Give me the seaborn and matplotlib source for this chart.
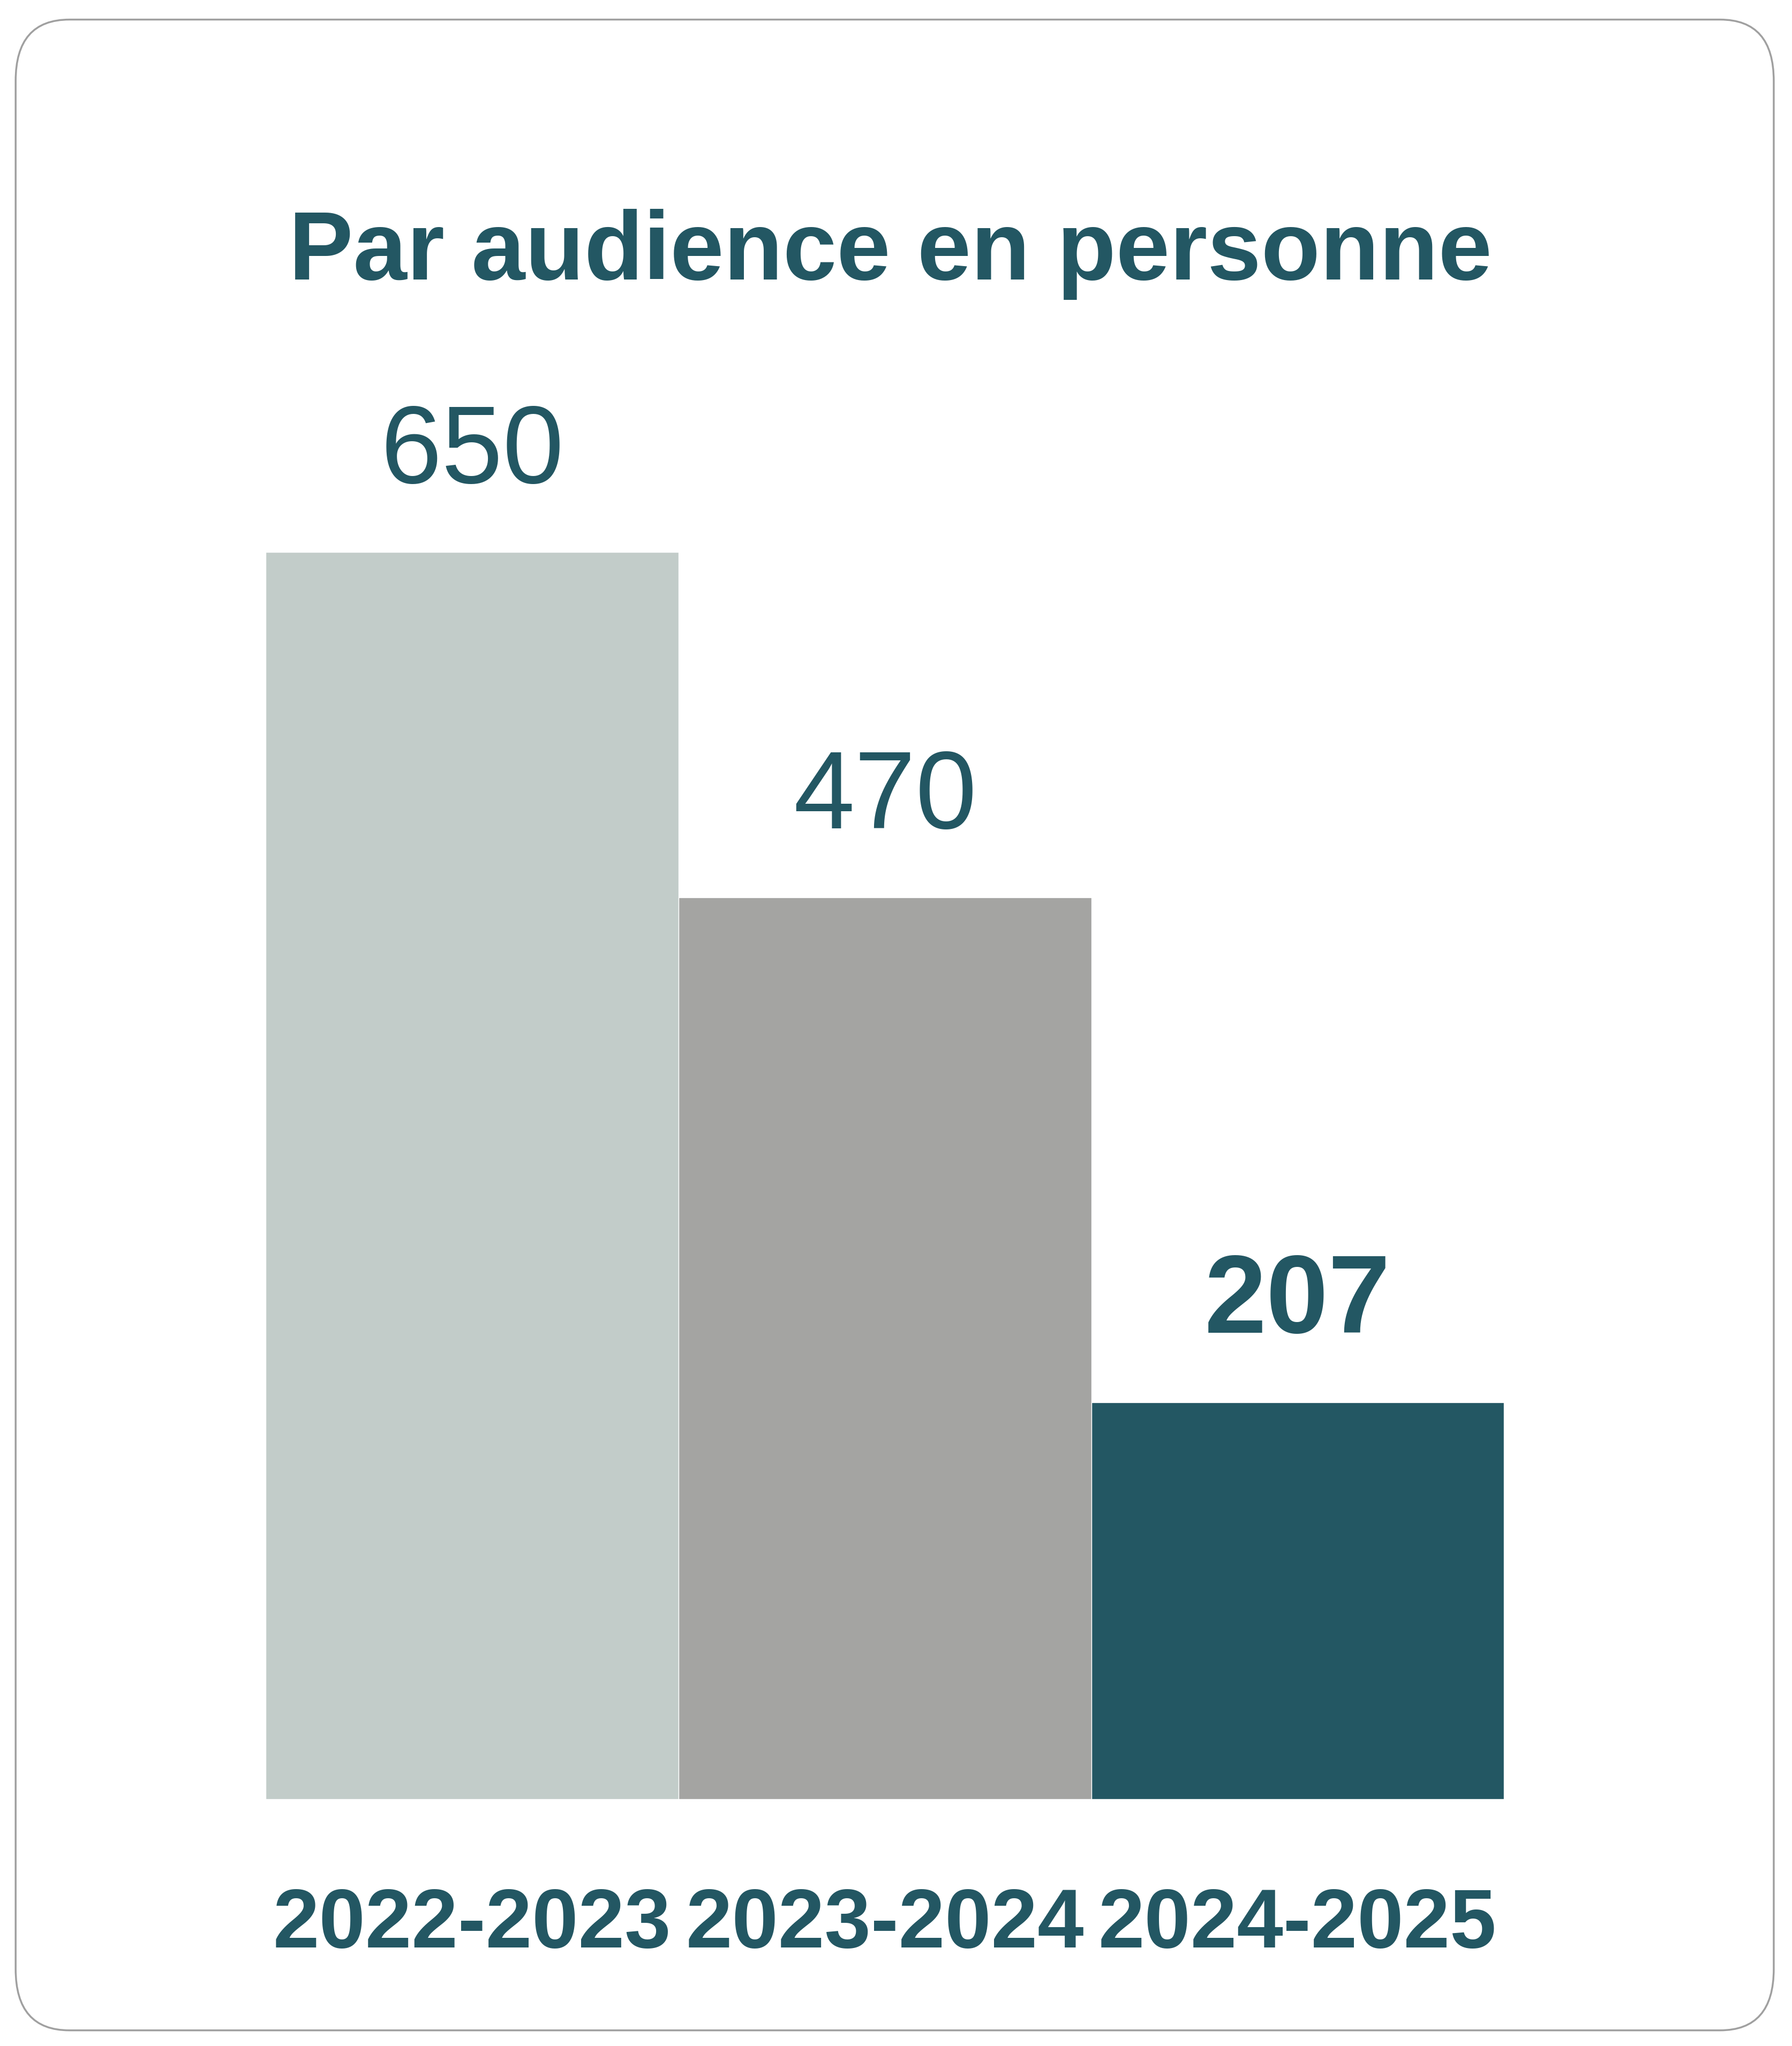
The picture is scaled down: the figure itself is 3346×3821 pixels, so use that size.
import matplotlib
matplotlib.use("Agg")
import matplotlib.pyplot as plt
import seaborn as sns
import pandas as pd
from matplotlib.patches import FancyBboxPatch

periods = ["2022-2023", "2023-2024", "2024-2025"]
values = [650, 470, 207]
colors = ["#c2ccc9", "#a4a4a2", "#235763"]
title = "Par audience en personne"
txt = "#235763"

sns.set_theme(style="white")
plt.rcParams['font.family'] = ['Liberation Sans', 'DejaVu Sans']

fig = plt.figure(figsize=(33.46, 38.21), dpi=100, facecolor="white")
W, H = 1375, 1568
border = FancyBboxPatch((12/W, 12/H), (1361-12)/W, (1553-12)/H,
                        boxstyle="round,pad=0,rounding_size=0.03",
                        transform=fig.transFigure, facecolor="none",
                        edgecolor="#a0a0a0", linewidth=2.5, zorder=-1)
fig.patches.append(border)

ax = fig.add_axes([204/W, 1-1379/H, (1154-204)/W, (1379-200)/H])
df = pd.DataFrame({"period": periods, "value": values})
sns.barplot(data=df, x="period", y="value", hue="period", palette=colors,
            width=1.0, legend=False, ax=ax, saturation=1)
ax.set_ylim(0, 650*1179/956)
ax.set_xlim(-0.5, 2.5)
for s in ax.spines.values():
    s.set_visible(False)
ax.set_yticks([])
ax.set_xlabel(""); ax.set_ylabel("")
ax.patch.set_alpha(0)
ax.tick_params(axis="x", length=0, pad=118)
for lab in ax.get_xticklabels():
    lab.set_fontfamily(['Liberation Sans Narrow', 'Liberation Sans'])
    lab.set_fontweight("bold")
    lab.set_fontsize(112)
    lab.set_color(txt)

for i, v in enumerate(values):
    last = i == len(values) - 1
    ax.annotate(str(v), (i, v), xytext=(0, 62), textcoords="offset points",
                ha="center", va="bottom", fontsize=148 if not last else 150,
                fontweight="bold" if last else "normal", color=txt)

fig.text(683/W, 1-195/H, title, ha="center", va="center", fontsize=130,
         fontweight="bold", color=txt)

fig.savefig("out.png", dpi=100, facecolor="white")
